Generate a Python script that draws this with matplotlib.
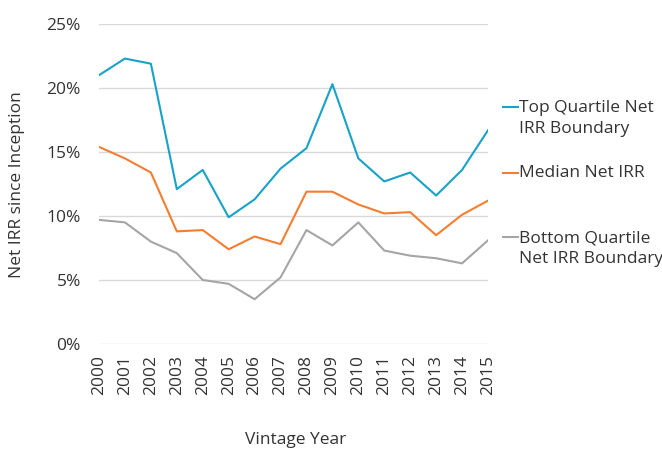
import matplotlib
matplotlib.use("Agg")
import matplotlib.pyplot as plt
from matplotlib.lines import Line2D
from matplotlib.ticker import FuncFormatter

plt.rcParams["font.family"] = ["Open Sans", "DejaVu Sans"]

years = list(range(2000, 2016))
top_quartile = [21.0, 22.3, 21.9, 12.1, 13.6, 9.9, 11.3, 13.7, 15.3, 20.3,
                14.5, 12.7, 13.4, 11.6, 13.6, 16.7]
median = [15.4, 14.5, 13.4, 8.8, 8.9, 7.4, 8.4, 7.8, 11.9, 11.9,
          10.9, 10.2, 10.3, 8.5, 10.1, 11.2]
bottom_quartile = [9.7, 9.5, 8.0, 7.1, 5.0, 4.7, 3.5, 5.2, 8.9, 7.7,
                   9.5, 7.3, 6.9, 6.7, 6.3, 8.1]

series_labels = ["Top Quartile Net\nIRR Boundary", "Median Net IRR",
                 "Bottom Quartile\nNet IRR Boundary"]
colors = ["#17a2c7", "#f47d30", "#a5a5a5"]
text_color = "#333333"
fs = 12.5

W, H = 662, 449
fig = plt.figure(figsize=(W / 100, H / 100), dpi=100)
ax = fig.add_axes([99 / W, 1 - 344 / H, (488 - 99) / W, (344 - 24) / H])

for vals, c in zip([top_quartile, median, bottom_quartile], colors):
    ax.plot(years, vals, color=c, linewidth=1.5)

ax.set_xlim(2000, 2015)
ax.set_ylim(0, 25)
ax.set_yticks(range(0, 26, 5))
ax.yaxis.set_major_formatter(FuncFormatter(lambda v, p: "{:d}%".format(int(v))))
ax.set_xticks(years)
ax.set_xticklabels([str(y) for y in years], rotation=90)
ax.grid(axis="y", color="#d9d9d9", linewidth=1)
ax.set_axisbelow(True)
for s in ax.spines.values():
    s.set_visible(False)
ax.tick_params(axis="y", length=0, pad=13, labelsize=fs, labelcolor=text_color)
ax.tick_params(axis="x", length=0, pad=8, labelsize=fs, labelcolor=text_color)

# axis titles placed in figure pixels
fig.text(296 / W, 1 - 440 / H, "Vintage Year", fontsize=fs, color=text_color,
         ha="center", va="center")
fig.text(17 / W, 1 - 185 / H, "Net IRR since Inception", fontsize=fs,
         color=text_color, rotation=90, ha="center", va="center")

# legend, drawn by hand so the key sits on the first text line
first_line_y = [107, 173, 237]
block_center_y = [118.5, 173, 248.5]
for label, c, yl, yc in zip(series_labels, colors, first_line_y, block_center_y):
    fig.add_artist(Line2D([503 / W, 518 / W], [1 - yl / H, 1 - yl / H],
                          color=c, linewidth=1.5))
    fig.text(519 / W, 1 - yc / H, label, fontsize=fs, color=text_color,
             ha="left", va="center", linespacing=1.35)

fig.savefig("out.png", dpi=100)
